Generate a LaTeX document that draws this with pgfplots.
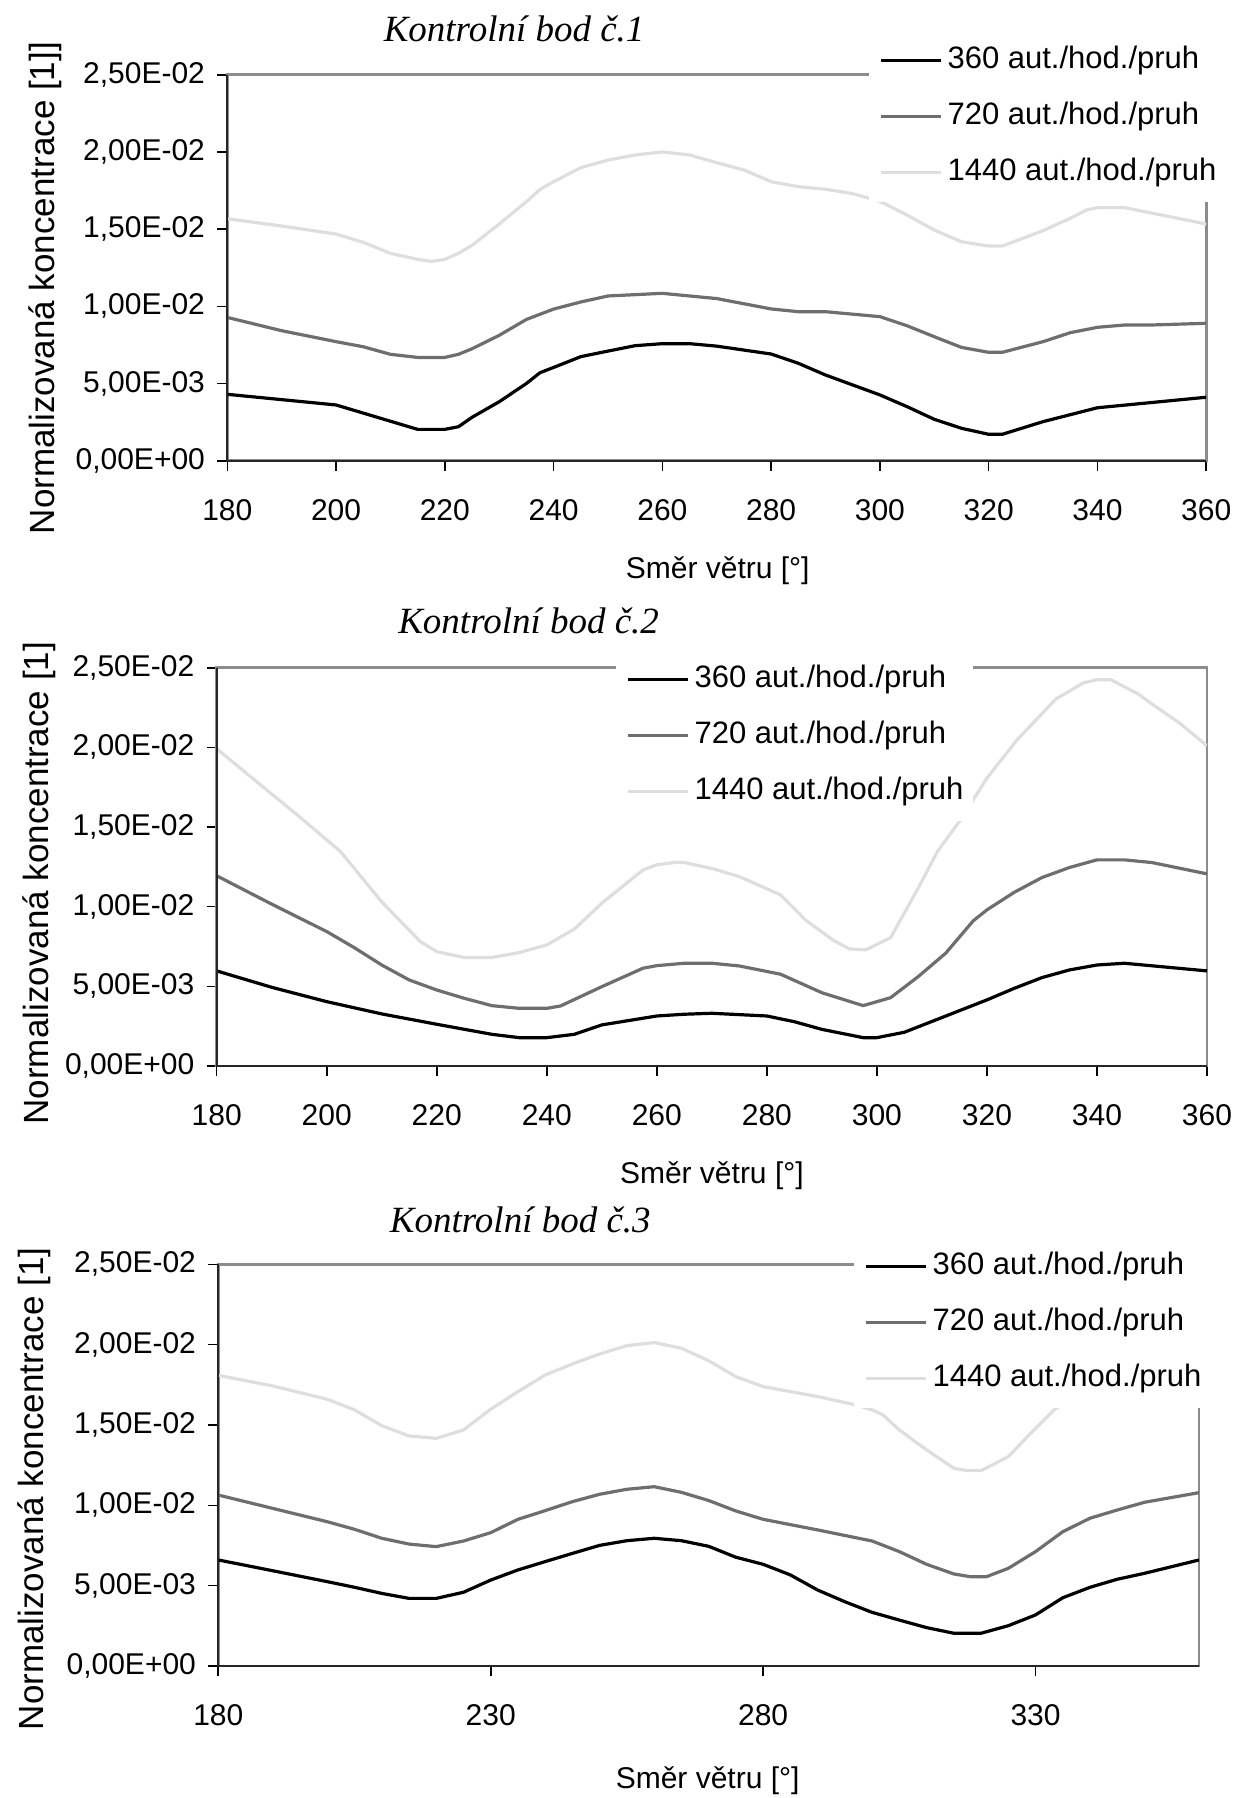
\documentclass[border=0pt]{standalone}
\usepackage{fontspec}
\setmainfont{Liberation Sans}
\newfontfamily\serifface{Liberation Serif}
\usepackage{pgfplots}
\pgfplotsset{compat=1.18}

\definecolor{c360}{HTML}{000000}
\definecolor{c720}{HTML}{6E6E6E}
\definecolor{c1440}{HTML}{DEDEDE}
\definecolor{frame}{HTML}{8C8C8C}

\newcommand\tickfont{\fontsize{15}{18}\selectfont}
\newcommand\legfont{\fontsize{15.5}{18}\selectfont}
\newcommand\xlabfont{\fontsize{15}{18}\selectfont}
\newcommand\ylabfont{\fontsize{17.5}{20}\selectfont}
\newcommand\titlefont{\serifface\itshape\fontsize{18.5}{22}\selectfont}

\pgfplotsset{
  panel/.style={
    scale only axis,
    anchor=south west,
    xmin=180, xmax=360,
    ymin=0, ymax=0.025,
    ytick={0,0.005,0.01,0.015,0.02,0.025},
    yticklabels={{0,00E+00},{5,00E-03},{1,00E-02},{1,50E-02},{2,00E-02},{2,50E-02}},
    scaled y ticks=false,
    /pgf/number format/assume math mode=true,
    /pgf/number format/1000 sep={},
    tick label style={font=\tickfont},
    tick align=outside,
    tick pos=left,
    major tick length=5pt,
    every tick/.style={black, line width=0.8pt},
    axis line style={frame, line width=1.3pt},
    xticklabel style={inner sep=0pt, yshift=-14pt},
    yticklabel style={inner sep=0pt, xshift=-6pt},
    legend style={draw=none, fill=white, font=\legfont, anchor=south west,
      inner xsep=5pt, inner ysep=6.75pt, row sep=12.5pt,
      nodes={inner sep=0pt, text height=11.5pt, text depth=4pt},
      /tikz/every odd column/.append style={column sep=2.5pt}},
    legend cell align=left,
    legend image code/.code={\draw[#1] (0pt,0pt) -- (30pt,0pt);},
    title style={font=\titlefont, anchor=base, yshift=-6pt},
    xlabel style={font=\xlabfont, anchor=base},
    ylabel style={font=\ylabfont, anchor=center},
    every axis plot/.append style={line width=1.6pt, line join=round, mark=none},
    after end axis/.code={\draw[black!85, line width=1pt] (rel axis cs:0,1) -- (rel axis cs:0,0) -- (rel axis cs:1,0);},
  }
}

\begin{document}
\begin{tikzpicture}
\path[use as bounding box] (0,0) rectangle (622.5pt,-899pt);

% Kontrolni bod 1
\begin{axis}[panel,
  at={(113.65pt,-230.35pt)}, width=489.45pt, height=193pt,
  xtick={180,200,...,360},
  title={Kontrolní bod č.1}, title style={at={(axis description cs:0.293,1.087)}},
  xlabel={Směr větru [°]}, xlabel style={at={(axis description cs:0.501,-0.306)}},
  ylabel={Normalizovaná koncentrace [1]]}, ylabel style={at={(axis description cs:-0.186,0.447)}},
  legend style={at={(axis description cs:0.6555,0.670)}},
]
\addplot[c360] coordinates {
  (180,4.30e-3) (200,3.61e-3) (215,2.03e-3) (220,2.03e-3) (222.5,2.2e-3)
  (225,2.81e-3) (230,3.82e-3) (235,5.0e-3) (237.5,5.7e-3) (240,6.04e-3)
  (245,6.74e-3) (250,7.1e-3) (255,7.45e-3) (260,7.58e-3) (265,7.58e-3)
  (270,7.42e-3) (280,6.91e-3) (285,6.31e-3) (290,5.55e-3) (300,4.26e-3)
  (305,3.5e-3) (310,2.68e-3) (315,2.1e-3) (320,1.71e-3) (322.5,1.71e-3)
  (330,2.53e-3) (340,3.43e-3) (360,4.11e-3)
};
\addlegendentry{360 aut./hod./pruh}
\addplot[c720] coordinates {
  (180,9.28e-3) (190,8.42e-3) (200,7.71e-3) (205,7.38e-3) (210,6.89e-3)
  (215,6.69e-3) (220,6.69e-3) (222.5,6.89e-3) (225,7.25e-3) (230,8.12e-3)
  (235,9.15e-3) (240,9.82e-3) (245,1.028e-2) (250,1.067e-2) (260,1.084e-2)
  (270,1.05e-2) (280,9.83e-3) (285,9.65e-3) (290,9.65e-3) (300,9.33e-3)
  (305,8.74e-3) (310,8.03e-3) (315,7.34e-3) (320,7.02e-3) (322.5,7.02e-3)
  (330,7.71e-3) (335,8.29e-3) (340,8.64e-3) (345,8.79e-3) (350,8.79e-3)
  (360,8.9e-3)
};
\addlegendentry{720 aut./hod./pruh}
\addplot[c1440] coordinates {
  (180,1.567e-2) (190,1.52e-2) (200,1.468e-2) (205,1.414e-2) (210,1.343e-2)
  (215,1.304e-2) (217.5,1.291e-2) (220,1.304e-2) (222.5,1.343e-2) (225,1.395e-2)
  (230,1.533e-2) (235,1.678e-2) (237.5,1.757e-2) (240,1.807e-2) (245,1.898e-2)
  (250,1.947e-2) (255,1.98e-2) (260,2.0e-2) (265,1.98e-2) (270,1.93e-2)
  (275,1.883e-2) (280,1.807e-2) (285,1.775e-2) (290,1.758e-2) (295,1.73e-2)
  (300,1.68e-2) (305,1.591e-2) (310,1.494e-2) (315,1.418e-2) (320,1.39e-2)
  (322.5,1.39e-2) (330,1.49e-2) (335,1.57e-2) (338,1.624e-2) (340,1.639e-2)
  (345,1.639e-2) (360,1.533e-2)
};
\addlegendentry{1440 aut./hod./pruh}
\end{axis}

% Kontrolni bod 2
\begin{axis}[panel,
  at={(108.35pt,-533pt)}, width=495.15pt, height=199.15pt,
  xtick={180,200,...,360},
  title={Kontrolní bod č.2}, title style={at={(axis description cs:0.315,1.085)}},
  xlabel={Směr větru [°]}, xlabel style={at={(axis description cs:0.500,-0.296)}},
  ylabel={Normalizovaná koncentrace [1]}, ylabel style={at={(axis description cs:-0.179,0.459)}},
  legend style={at={(axis description cs:0.4032,0.6151)}},
]
\addplot[c360] coordinates {
  (180,5.97e-3) (190,4.94e-3) (200,4.04e-3) (210,3.27e-3) (220,2.62e-3)
  (230,1.99e-3) (235,1.78e-3) (240,1.78e-3) (245,1.99e-3) (250,2.58e-3)
  (260,3.14e-3) (265,3.25e-3) (270,3.31e-3) (280,3.14e-3) (285,2.78e-3)
  (290,2.3e-3) (297.5,1.78e-3) (300,1.78e-3) (305,2.12e-3) (320,4.15e-3)
  (325,4.88e-3) (330,5.55e-3) (335,6.03e-3) (340,6.34e-3) (345,6.45e-3)
  (360,5.97e-3)
};
\addlegendentry{360 aut./hod./pruh}
\addplot[c720] coordinates {
  (180,1.194e-2) (190,1.016e-2) (200,8.44e-3) (205,7.43e-3) (210,6.34e-3)
  (215,5.4e-3) (220,4.77e-3) (225,4.25e-3) (230,3.79e-3) (235,3.62e-3)
  (240,3.62e-3) (242.5,3.77e-3) (250,4.98e-3) (257.5,6.14e-3) (260,6.3e-3)
  (265,6.45e-3) (270,6.45e-3) (275,6.28e-3) (282.5,5.76e-3) (290,4.6e-3)
  (297.5,3.79e-3) (302.5,4.29e-3) (307.5,5.61e-3) (312.5,7.08e-3) (317.5,9.11e-3)
  (320,9.8e-3) (325,1.091e-2) (330,1.183e-2) (335,1.246e-2) (340,1.294e-2)
  (345,1.294e-2) (350,1.277e-2) (360,1.206e-2)
};
\addlegendentry{720 aut./hod./pruh}
\addplot[c1440] coordinates {
  (180,1.991e-2) (185,1.849e-2) (190,1.707e-2) (195,1.566e-2) (202.5,1.346e-2)
  (210,1.03e-2) (217,7.81e-3) (220,7.18e-3) (225,6.81e-3) (230,6.81e-3)
  (235,7.12e-3) (240,7.6e-3) (245,8.59e-3) (250,1.022e-2) (257.5,1.231e-2)
  (260,1.263e-2) (263.5,1.279e-2) (265,1.277e-2) (270,1.24e-2) (275,1.189e-2)
  (282.5,1.074e-2) (287,9.17e-3) (292,7.91e-3) (295,7.35e-3) (298,7.29e-3)
  (302.5,8.06e-3) (307.5,1.116e-2) (311,1.346e-2) (315,1.535e-2) (320,1.807e-2)
  (325.5,2.048e-2) (332.5,2.303e-2) (337.5,2.404e-2) (340,2.425e-2) (342.5,2.425e-2)
  (347.5,2.335e-2) (350,2.272e-2) (355,2.153e-2) (360,2.01e-2)
};
\addlegendentry{1440 aut./hod./pruh}
\end{axis}

% Kontrolni bod 3
\begin{axis}[panel,
  at={(109.15pt,-833pt)}, width=490.35pt, height=200.85pt,
  xtick={180,230,280,330},
  title={Kontrolní bod č.3}, title style={at={(axis description cs:0.308,1.080)}},
  xlabel={Směr větru [°]}, xlabel style={at={(axis description cs:0.499,-0.304)}},
  ylabel={Normalizovaná koncentrace [1]}, ylabel style={at={(axis description cs:-0.188,0.441)}},
  legend style={at={(axis description cs:0.6482,0.6423)}},
]
\addplot[c360] coordinates {
  (180,6.6e-3) (190,5.93e-3) (200,5.25e-3) (205,4.9e-3) (210,4.52e-3)
  (215,4.21e-3) (220,4.21e-3) (225,4.59e-3) (230,5.35e-3) (235,5.98e-3)
  (240,6.5e-3) (245,7.01e-3) (250,7.51e-3) (255,7.8e-3) (260,7.95e-3)
  (265,7.8e-3) (270,7.45e-3) (275,6.77e-3) (280,6.33e-3) (285,5.67e-3)
  (290,4.73e-3) (295,4.0e-3) (300,3.34e-3) (305,2.86e-3) (310,2.39e-3)
  (315,2.04e-3) (320,2.04e-3) (325,2.51e-3) (330,3.18e-3) (335,4.25e-3)
  (340,4.9e-3) (345,5.4e-3) (350,5.77e-3) (360,6.6e-3)
};
\addlegendentry{360 aut./hod./pruh}
\addplot[c720] coordinates {
  (180,1.064e-2) (190,9.81e-3) (200,8.98e-3) (205,8.51e-3) (210,7.95e-3)
  (215,7.59e-3) (220,7.43e-3) (225,7.78e-3) (230,8.3e-3) (235,9.13e-3)
  (240,9.67e-3) (245,1.023e-2) (250,1.069e-2) (255,1.1e-2) (260,1.116e-2)
  (265,1.081e-2) (270,1.03e-2) (275,9.65e-3) (280,9.13e-3) (290,8.47e-3)
  (300,7.78e-3) (305,7.12e-3) (310,6.33e-3) (315,5.73e-3) (318,5.56e-3)
  (321,5.56e-3) (325,6.08e-3) (330,7.12e-3) (335,8.36e-3) (340,9.2e-3)
  (345,9.71e-3) (350,1.019e-2) (360,1.079e-2)
};
\addlegendentry{720 aut./hod./pruh}
\addplot[c1440] coordinates {
  (180,1.809e-2) (190,1.743e-2) (200,1.66e-2) (205,1.594e-2) (210,1.496e-2)
  (215,1.432e-2) (220,1.417e-2) (225,1.469e-2) (230,1.598e-2) (235,1.708e-2)
  (240,1.811e-2) (245,1.88e-2) (250,1.942e-2) (255,1.994e-2) (260,2.013e-2)
  (265,1.978e-2) (270,1.9e-2) (275,1.801e-2) (280,1.739e-2) (290,1.677e-2)
  (297,1.625e-2) (300,1.594e-2) (302,1.563e-2) (305,1.469e-2) (310,1.345e-2)
  (315,1.231e-2) (317.5,1.216e-2) (320,1.216e-2) (325,1.303e-2) (330,1.48e-2)
  (333.5,1.598e-2) (340,1.72e-2) (345,1.78e-2) (350,1.8e-2) (360,1.81e-2)
};
\addlegendentry{1440 aut./hod./pruh}
\end{axis}
\end{tikzpicture}
\end{document}
